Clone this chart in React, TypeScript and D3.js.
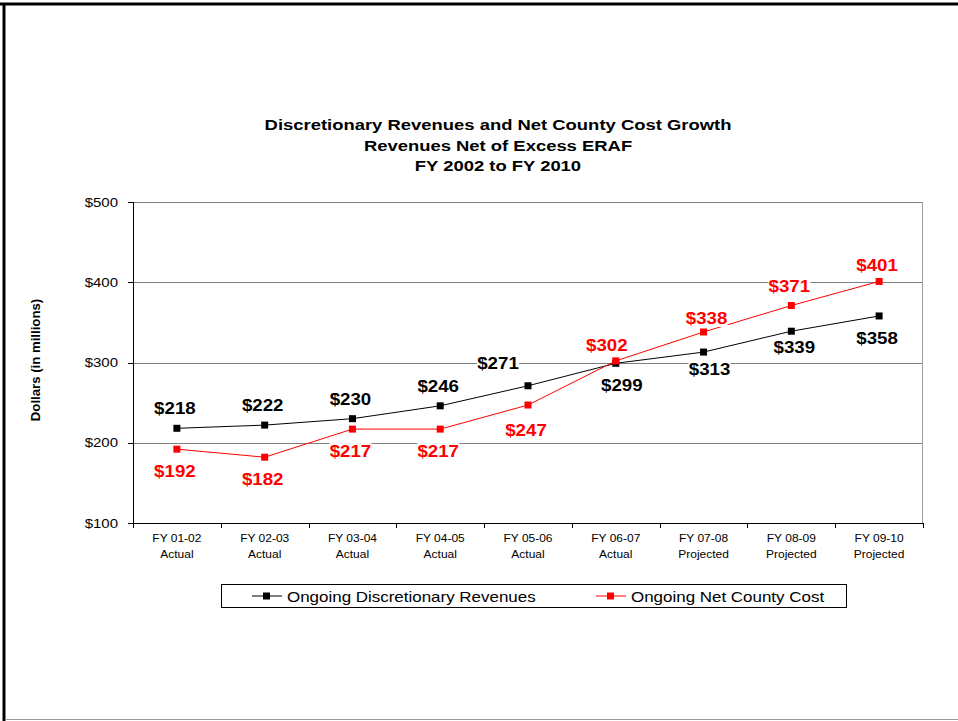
import React from "react";
import * as d3 from "d3";

const categories = ["FY 01-02", "FY 02-03", "FY 03-04", "FY 04-05", "FY 05-06", "FY 06-07", "FY 07-08", "FY 08-09", "FY 09-10"];
const status = ["Actual", "Actual", "Actual", "Actual", "Actual", "Actual", "Projected", "Projected", "Projected"];
const revenues = [218, 222, 230, 246, 271, 299, 313, 339, 358];
const netCost = [192, 182, 217, 217, 247, 302, 338, 371, 401];
const revLabelAbove = [true, true, true, true, true, false, false, false, false];
const costLabelAbove = [false, false, false, false, false, true, true, true, true];
const yTicks = [100, 200, 300, 400, 500];
const titleLines = ["Discretionary Revenues and Net County Cost Growth", "Revenues Net of Excess ERAF", "FY 2002 to FY 2010"];

// manual nudges of data labels (as in the original chart)
const revLabelNudge: [number, number][] = [[0, 0], [0, 0], [0, 0], [0, 0], [-28, -3], [8, 0], [8, -5], [5, -6], [0, 0]];
const costLabelNudge: [number, number][] = [[0, 0], [0, 0], [0, 0], [0, 0], [0, 3], [-7, 4], [5, 6], [0, 0], [0, 4]];

const W = 958, H = 721;
const L = 133, R = 923, T = 202, B = 523;

function SText(props: { x: number; y: number; sx: number; children: React.ReactNode; [k: string]: any }) {
  const { x, y, sx, children, ...rest } = props;
  return (
    <g transform={`translate(${x},${y}) scale(${sx},1)`}>
      <text x={0} y={0} {...rest}>{children}</text>
    </g>
  );
}

export default function App() {
  const x = d3.scaleBand<string>().domain(categories).range([L, R]);
  const y = d3.scaleLinear().domain([100, 500]).range([B, T]);
  const cx = (i: number) => (x(categories[i]) as number) + x.bandwidth() / 2;
  const line = d3.line<number>().x((_, i) => cx(i)).y((d) => y(d));
  const font = "Arial, 'Liberation Sans', sans-serif";

  const series = [
    { vals: revenues, color: "#000000", above: revLabelAbove, nudge: revLabelNudge },
    { vals: netCost, color: "#ff0000", above: costLabelAbove, nudge: costLabelNudge },
  ];

  return (
    <svg width={W} height={H} style={{ position: "absolute", left: 0, top: 0 }} fontFamily={font}>
      <rect x={0} y={0} width={W} height={H} fill="#fff" />
      {/* frame */}
      <line x1={0} y1={4} x2={W} y2={4} stroke="#000" strokeWidth={3} />
      <line x1={4} y1={3} x2={4} y2={H} stroke="#000" strokeWidth={3} />
      <line x1={5} y1={719.5} x2={W} y2={719.5} stroke="#999" strokeWidth={1} />

      {/* title */}
      {titleLines.map((t, i) => (
        <SText key={i} x={498} y={130 + i * 20.5} sx={1.19} textAnchor="middle" fontWeight="bold" fontSize={15.5}>{t}</SText>
      ))}

      {/* gridlines */}
      {yTicks.filter((v) => v > 100).map((v) => (
        <line key={v} x1={L} x2={R} y1={Math.round(y(v)) + 0.5} y2={Math.round(y(v)) + 0.5} stroke="#808080" strokeWidth={1} />
      ))}
      <line x1={R - 0.5} x2={R - 0.5} y1={T} y2={B} stroke="#a0a0a0" strokeWidth={1} />
      {/* axes */}
      <line x1={L + 0.5} x2={L + 0.5} y1={T} y2={B} stroke="#000" strokeWidth={1} />
      <line x1={L} x2={R} y1={B + 0.5} y2={B + 0.5} stroke="#000" strokeWidth={1} />
      {yTicks.map((v) => (
        <g key={v}>
          <line x1={L - 5} x2={L} y1={Math.round(y(v)) + 0.5} y2={Math.round(y(v)) + 0.5} stroke="#000" />
          <SText x={L - 15} y={y(v) + 4.5} sx={1.2} textAnchor="end" fontSize={12.5}>{"$" + v}</SText>
        </g>
      ))}
      {categories.map((c, i) => (
        <g key={c}>
          <line x1={Math.round(x(c) as number) + 0.5} x2={Math.round(x(c) as number) + 0.5} y1={B} y2={B + 5} stroke="#000" />
          <SText x={cx(i)} y={542} sx={1.09} textAnchor="middle" fontSize={11}>{c}</SText>
          <SText x={cx(i)} y={558} sx={1.09} textAnchor="middle" fontSize={11}>{status[i]}</SText>
        </g>
      ))}
      <line x1={R + 0.5} x2={R + 0.5} y1={B} y2={B + 5} stroke="#000" />

      <text transform={`translate(40,360) rotate(-90)`} textAnchor="middle" fontWeight="bold" fontSize={13.2}>Dollars (in millions)</text>

      {/* series */}
      {series.map((s, si) => (
        <g key={si}>
          <path d={line(s.vals) || ""} fill="none" stroke={s.color} strokeWidth={1} />
          {s.vals.map((v, i) => (
            <rect key={i} x={cx(i) - 3.5} y={y(v) - 3.5} width={7} height={7} fill={s.color} />
          ))}
        </g>
      ))}
      {series.map((s, si) => (
        <g key={"l" + si}>
          {s.vals.map((v, i) => {
            const lx = cx(i) - 2 + s.nudge[i][0];
            const ly = (s.above[i] ? y(v) - 14 : y(v) + 28) + s.nudge[i][1];
            return (
              <g key={"t" + i}>
                <rect x={lx - 21} y={ly - 14} width={42} height={17} fill="#fff" />
                <SText x={lx} y={ly} sx={1.1} textAnchor="middle" fontWeight="bold" fontSize={17} fill={s.color}>{"$" + v}</SText>
              </g>
            );
          })}
        </g>
      ))}

      {/* legend */}
      <rect x={221.5} y={584.5} width={625} height={23} fill="#fff" stroke="#000" strokeWidth={1} />
      <line x1={252} x2={282} y1={596} y2={596} stroke="#000" />
      <rect x={263} y={592.5} width={7} height={7} fill="#000" />
      <SText x={287} y={601.5} sx={1.13} fontSize={15}>Ongoing Discretionary Revenues</SText>
      <line x1={596} x2={626} y1={596} y2={596} stroke="#ff0000" />
      <rect x={607} y={592.5} width={7} height={7} fill="#ff0000" />
      <SText x={631} y={601.5} sx={1.13} fontSize={15}>Ongoing Net County Cost</SText>
    </svg>
  );
}
